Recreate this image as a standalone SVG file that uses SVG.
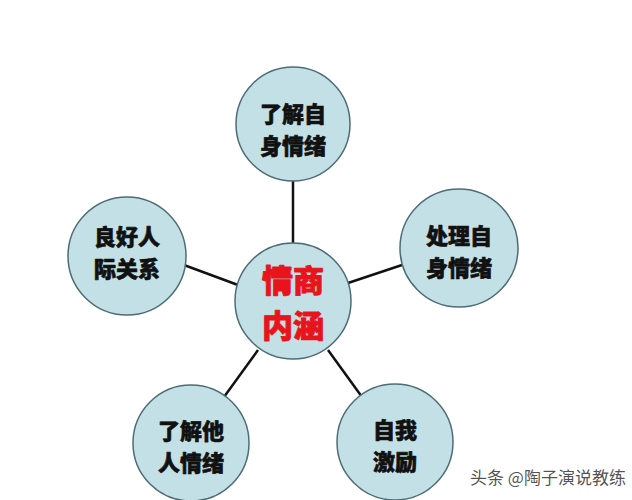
<svg xmlns="http://www.w3.org/2000/svg" width="632" height="500" viewBox="0 0 632 500">
<style>
.n{fill:#c2e0e5;stroke:#4d6c76;stroke-width:1.5}
.t{font-family:"Noto Sans CJK SC","Noto Sans CJK JP",sans-serif;font-weight:900;font-size:22px;fill:#111;stroke:#111;stroke-width:0.6;stroke-linejoin:round;text-anchor:middle}
.c{font-family:"Noto Sans CJK SC","Noto Sans CJK JP",sans-serif;font-weight:900;font-size:31px;fill:#e8141c;stroke:#e8141c;stroke-width:0.9;stroke-linejoin:round;text-anchor:middle}
.e line{stroke:#111;stroke-width:2.5}
</style>
<rect width="632" height="500" fill="#fff"/>
<g id="connectors" class="e">
<line x1="293" y1="180" x2="293" y2="245"/>
<line x1="184" y1="265" x2="238" y2="285"/>
<line x1="402" y1="265" x2="348" y2="283"/>
<line x1="258" y1="350" x2="224" y2="397"/>
<line x1="328" y1="350" x2="362" y2="397"/>
</g>
<g id="center"><circle class="n" cx="293" cy="301" r="58"/><text class="c" x="293" y="292">情商<tspan x="293" dy="45">内涵</tspan></text></g>
<g id="top"><circle class="n" cx="293" cy="124" r="57"/><text class="t" x="293" y="122">了解自<tspan x="293" dy="32">身情绪</tspan></text></g>
<g id="left"><circle class="n" cx="127" cy="256" r="59"/><text class="t" x="127" y="245">良好人<tspan x="127" dy="32">际关系</tspan></text></g>
<g id="right"><circle class="n" cx="459" cy="248" r="59"/><text class="t" x="459" y="244">处理自<tspan x="459" dy="32">身情绪</tspan></text></g>
<g id="bottomleft"><circle class="n" cx="191" cy="443" r="58"/><text class="t" x="191" y="439">了解他<tspan x="191" dy="32">人情绪</tspan></text></g>
<g id="bottomright"><circle class="n" cx="395" cy="442" r="58"/><text class="t" x="395" y="438">自我<tspan x="395" dy="32">激励</tspan></text></g>
<text x="470" y="484" font-family="Noto Sans CJK SC,sans-serif" font-size="17" fill="#333" fill-opacity="0.85">头条 @陶子演说教练</text>
</svg>
